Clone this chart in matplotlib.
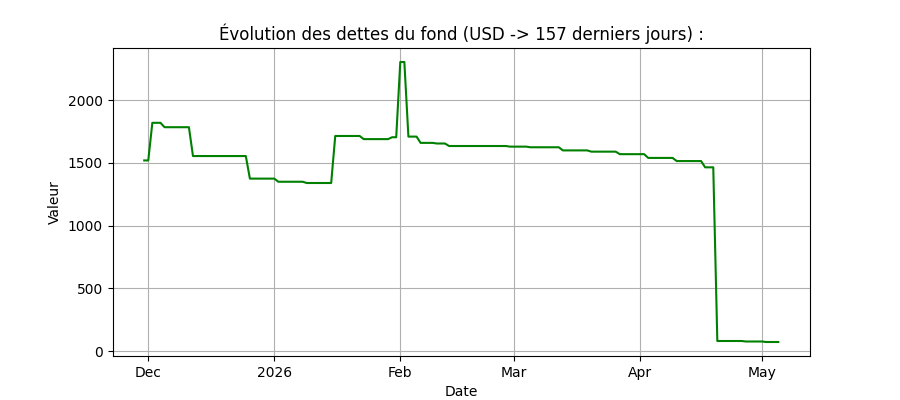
import numpy as np
import pandas as pd
import matplotlib
matplotlib.use("Agg")
import matplotlib.pyplot as plt
import matplotlib.dates as mdates

# debt level, as (value, number of days at that value)
start_date = "2025-11-30"
levels = [1520, 1820, 1785, 1555, 1375, 1350, 1340, 1715, 1690, 1705,
          2305, 1710, 1660, 1655, 1635, 1630, 1625, 1600, 1590, 1570,
          1540, 1515, 1465, 80, 76, 72]
durations = [2, 3, 7, 14, 7, 7, 7, 7, 7, 2,
             2, 3, 4, 3, 15, 5, 8, 7, 7, 7,
             7, 7, 3, 7, 5, 4]

values = np.repeat(levels, durations)
dates = pd.date_range(start_date, periods=len(values), freq="D")

fig, ax = plt.subplots(figsize=(9, 4), dpi=100)
ax.plot(dates, values, color="green")
ax.set_title(f"Évolution des dettes du fond (USD -> {len(values)} derniers jours) :")
ax.set_xlabel("Date")
ax.set_ylabel("Valeur")
loc = mdates.AutoDateLocator()
ax.xaxis.set_major_locator(loc)
ax.xaxis.set_major_formatter(mdates.ConciseDateFormatter(loc))
ax.grid(True)
fig.savefig("out.png")
